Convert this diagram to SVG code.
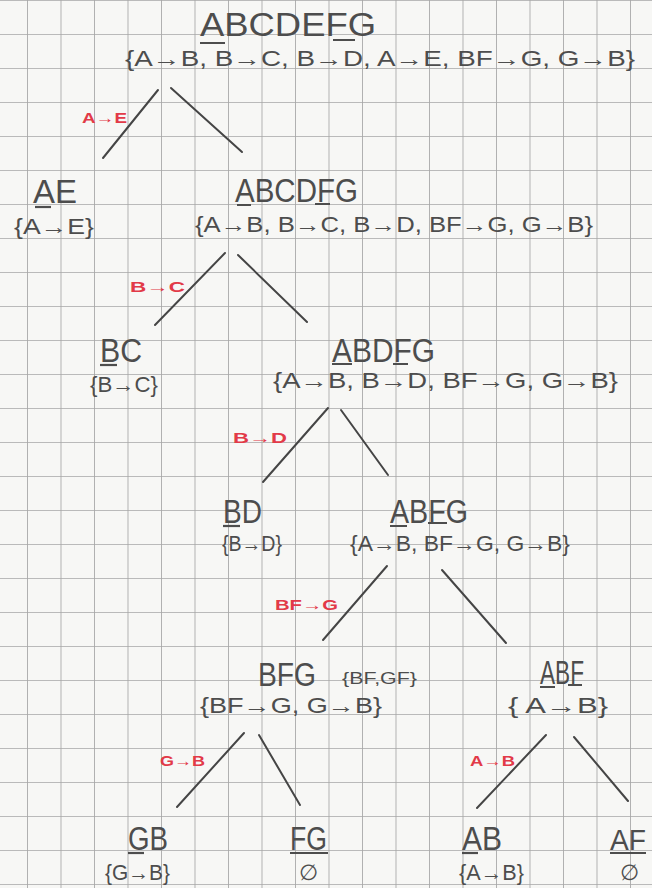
<svg xmlns="http://www.w3.org/2000/svg" width="652" height="888" viewBox="0 0 652 888">
<defs>
<pattern id="grid" patternUnits="userSpaceOnUse" x="27" y="0" width="33.5" height="34">
<path d="M0 0V34M0 0H33.5" fill="none" stroke="#a6a6a6" stroke-width="1.7"/>
</pattern>
</defs>
<style>
.t{font-family:"Liberation Sans","DejaVu Sans",sans-serif;fill:#4d4d4d;font-size:34px}
.s{font-family:"Liberation Sans","DejaVu Sans",sans-serif;fill:#4d4d4d;font-size:22px}
.k{font-family:"Liberation Sans","DejaVu Sans",sans-serif;fill:#4d4d4d;font-size:17px}
.r{font-family:"Liberation Sans","DejaVu Sans",sans-serif;fill:#e23a48;font-size:15px;font-weight:bold}
.u{stroke:#4d4d4d;stroke-width:2.2;fill:none}
.e{stroke:#454545;stroke-width:2;fill:none;stroke-linecap:round}
</style>
<rect width="652" height="888" fill="#f7f7f5"/>
<rect width="652" height="888" fill="url(#grid)"/>
<g id="connectors">
<path class="e" d="M158 90L103 158M171 88L242 152"/>
<path class="e" d="M225 253L155 325M238 255L307 322"/>
<path class="e" d="M328 408L263 482M341 410L388 475"/>
<path class="e" d="M387 566L323 640M442 570L506 643"/>
<path class="e" d="M244 733L177 807M259 735L300 805"/>
<path class="e" d="M546 735L477 808M574 737L628 801"/>
<text class="r" x="82" y="123" textLength="45" lengthAdjust="spacingAndGlyphs">A→E</text>
<text class="r" x="130" y="292" textLength="55" lengthAdjust="spacingAndGlyphs">B→C</text>
<text class="r" x="233" y="443" textLength="54" lengthAdjust="spacingAndGlyphs">B→D</text>
<text class="r" x="275" y="610" textLength="63" lengthAdjust="spacingAndGlyphs">BF→G</text>
<text class="r" x="160" y="766" textLength="45" lengthAdjust="spacingAndGlyphs">G→B</text>
<text class="r" x="470" y="766" textLength="45" lengthAdjust="spacingAndGlyphs">A→B</text>
</g>
<g id="n-ABCDEFG">
<text class="t" x="200" y="36" textLength="176" lengthAdjust="spacingAndGlyphs">ABCDEFG</text>
<path class="u" d="M200 43H225M333 40H355"/>
<text class="s" x="125" y="66" textLength="510" lengthAdjust="spacingAndGlyphs">{A→B, B→C, B→D, A→E, BF→G, G→B}</text>
</g>
<g id="n-AE">
<text class="t" x="33" y="203" textLength="44" lengthAdjust="spacingAndGlyphs">AE</text>
<path class="u" d="M35 207H51"/>
<text class="s" x="14" y="234" textLength="80" lengthAdjust="spacingAndGlyphs">{A→E}</text>
</g>
<g id="n-ABCDFG">
<text class="t" x="235" y="202" textLength="123" lengthAdjust="spacingAndGlyphs">ABCDFG</text>
<path class="u" d="M237 205H251M315 204H330"/>
<text class="s" x="195" y="232" textLength="398" lengthAdjust="spacingAndGlyphs">{A→B, B→C, B→D, BF→G, G→B}</text>
</g>
<g id="n-BC">
<text class="t" x="100" y="362" textLength="42" lengthAdjust="spacingAndGlyphs">BC</text>
<path class="u" d="M100 365H117"/>
<text class="s" x="90" y="392" textLength="68" lengthAdjust="spacingAndGlyphs">{B→C}</text>
</g>
<g id="n-ABDFG">
<text class="t" x="332" y="362" textLength="103" lengthAdjust="spacingAndGlyphs">ABDFG</text>
<path class="u" d="M332 364H352M393 364H408"/>
<text class="s" x="273" y="388" textLength="345" lengthAdjust="spacingAndGlyphs">{A→B, B→D, BF→G, G→B}</text>
</g>
<g id="n-BD">
<text class="t" x="223" y="523" textLength="39" lengthAdjust="spacingAndGlyphs">BD</text>
<path class="u" d="M223 526H240"/>
<text class="s" x="222" y="551" textLength="60" lengthAdjust="spacingAndGlyphs">{B→D}</text>
</g>
<g id="n-ABFG">
<text class="t" x="390" y="523" textLength="78" lengthAdjust="spacingAndGlyphs">ABFG</text>
<path class="u" d="M390 526H407M428 523H447"/>
<text class="s" x="350" y="551" textLength="220" lengthAdjust="spacingAndGlyphs">{A→B, BF→G, G→B}</text>
</g>
<g id="n-BFG">
<text class="t" x="258" y="686" textLength="58" lengthAdjust="spacingAndGlyphs">BFG</text>
<text class="k" x="342" y="684" textLength="75" lengthAdjust="spacingAndGlyphs">{BF,GF}</text>
<text class="s" x="200" y="713" textLength="182" lengthAdjust="spacingAndGlyphs">{BF→G, G→B}</text>
</g>
<g id="n-ABF">
<text class="t" x="540" y="684" textLength="44" lengthAdjust="spacingAndGlyphs">ABF</text>
<path class="u" d="M540 687H555M568 685H582"/>
<text class="s" x="508" y="713" textLength="100" lengthAdjust="spacingAndGlyphs">{ A→B}</text>
</g>
<g id="n-GB">
<text class="t" x="128" y="850" textLength="40" lengthAdjust="spacingAndGlyphs">GB</text>
<path class="u" d="M128 853H144"/>
<text class="s" x="105" y="880" textLength="65" lengthAdjust="spacingAndGlyphs">{G→B}</text>
</g>
<g id="n-FG">
<text class="t" x="290" y="850" textLength="37" lengthAdjust="spacingAndGlyphs">FG</text>
<path class="u" d="M290 853H328"/>
<text class="s" x="299" y="880">∅</text>
</g>
<g id="n-AB">
<text class="t" x="462" y="850" textLength="40" lengthAdjust="spacingAndGlyphs">AB</text>
<path class="u" d="M462 853H478"/>
<text class="s" x="459" y="880" textLength="65" lengthAdjust="spacingAndGlyphs">{A→B}</text>
</g>
<g id="n-AF">
<text class="t" x="610" y="850" style="font-size:30px" textLength="36" lengthAdjust="spacingAndGlyphs">AF</text>
<path class="u" d="M610 853H646"/>
<text class="s" x="620" y="880">∅</text>
</g>
</svg>
